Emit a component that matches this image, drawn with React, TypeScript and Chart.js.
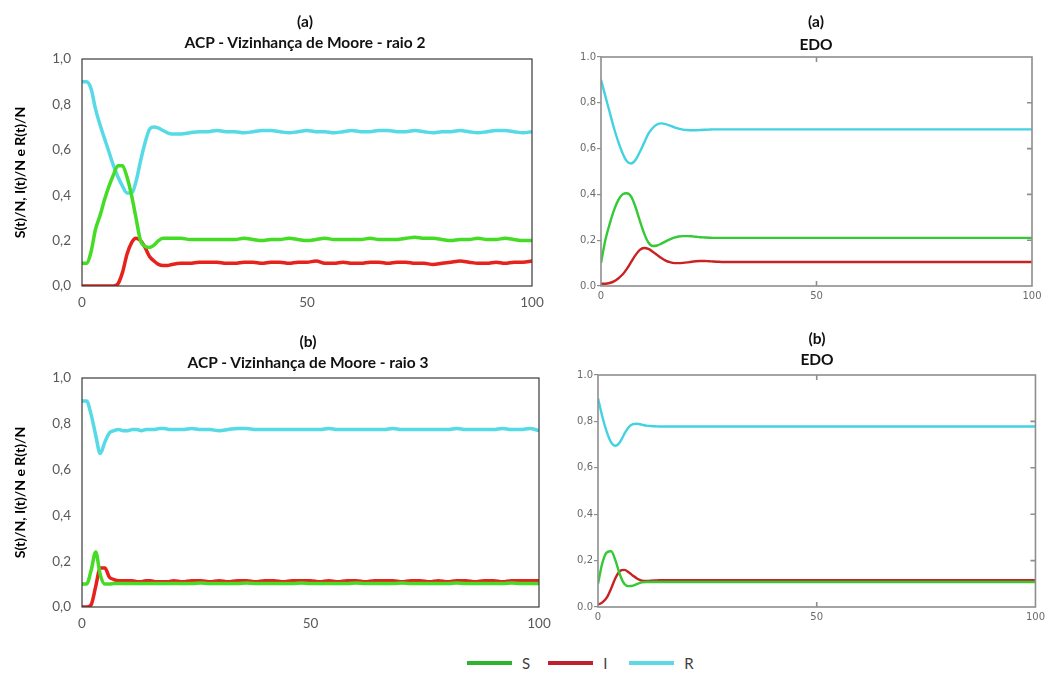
import React, { useEffect, useRef } from 'react';
import { Chart, registerables } from 'chart.js';

Chart.register(...registerables);

// ---------- categories / tick labels ----------
const seriesNames = ['S', 'I', 'R'];
const acpYTicks = ['0,0', '0,2', '0,4', '0,6', '0,8', '1,0'];
const edoYTicks = ['0.0', '0,2', '0,4', '0,6', '0,8', '1.0'];
const xTicks = ['0', '50', '100'];

// ---------- time steps ----------
const tAcp = [
  0, 1, 2, 3, 4, 5, 6, 7, 8, 9, 10, 11, 12, 13, 14, 15, 16, 17, 18, 19, 20,
  22, 24, 26, 28, 30, 32, 34, 36, 38, 40, 42, 44, 46, 48, 50, 52, 54, 56, 58, 60,
  62, 64, 66, 68, 70, 72, 74, 76, 78, 80, 82, 84, 86, 88, 90, 92, 94, 96, 98, 100,
];
const tEdo = [
  0, 1, 2, 3, 4, 5, 6, 7, 8, 9, 10, 11, 12, 13, 14, 15, 16, 17, 18, 19, 20,
  21, 22, 23, 24, 25, 26, 27, 28, 29, 30,
  35, 40, 45, 50, 55, 60, 65, 70, 75, 80, 85, 90, 95, 100,
];

// ---------- (a) ACP raio 2 ----------
const acp2S = [
  0.10, 0.10, 0.15, 0.25, 0.31, 0.38, 0.44, 0.49, 0.53, 0.53, 0.48, 0.40, 0.30, 0.20, 0.175, 0.17, 0.18, 0.20, 0.21, 0.21, 0.21,
  0.21, 0.205, 0.205, 0.205, 0.205, 0.205, 0.205, 0.21, 0.205, 0.20,
  0.205, 0.205, 0.21, 0.205, 0.20, 0.205, 0.21, 0.205, 0.205, 0.205,
  0.205, 0.21, 0.205, 0.205, 0.205, 0.21, 0.215, 0.21, 0.21, 0.205,
  0.20, 0.205, 0.205, 0.21, 0.205, 0.205, 0.21, 0.205, 0.20, 0.20,
];
const acp2I = [
  0, 0, 0, 0, 0, 0, 0, 0, 0.01, 0.06, 0.14, 0.19, 0.21, 0.20, 0.17, 0.13, 0.11, 0.095, 0.09, 0.09, 0.095,
  0.10, 0.10, 0.105, 0.105, 0.105, 0.10, 0.10, 0.105, 0.105, 0.10,
  0.105, 0.105, 0.10, 0.105, 0.105, 0.11, 0.10, 0.10, 0.105, 0.10,
  0.10, 0.105, 0.105, 0.10, 0.105, 0.105, 0.10, 0.10, 0.095, 0.10,
  0.105, 0.11, 0.105, 0.10, 0.10, 0.105, 0.10, 0.105, 0.105, 0.11,
];
const acp2R = [
  0.90, 0.90, 0.87, 0.78, 0.71, 0.65, 0.59, 0.53, 0.48, 0.44, 0.41, 0.41, 0.46, 0.55, 0.63, 0.69, 0.70, 0.695, 0.685, 0.675, 0.67,
  0.67, 0.675, 0.68, 0.68, 0.685, 0.68, 0.68, 0.675, 0.68, 0.685,
  0.685, 0.68, 0.675, 0.68, 0.685, 0.68, 0.68, 0.675, 0.68, 0.685,
  0.68, 0.68, 0.685, 0.685, 0.68, 0.68, 0.685, 0.68, 0.675, 0.68,
  0.68, 0.685, 0.68, 0.675, 0.68, 0.685, 0.685, 0.68, 0.675, 0.68,
];

// ---------- (b) ACP raio 3 ----------
const acp3S = [
  0.10, 0.10, 0.16, 0.24, 0.14, 0.10, 0.10, 0.103, 0.103, 0.103, 0.103, 0.103, 0.103, 0.103, 0.103, 0.103, 0.103, 0.103, 0.103, 0.103, 0.103,
  0.103, 0.103, 0.105, 0.103, 0.103, 0.103, 0.103, 0.105, 0.103, 0.103,
  0.103, 0.103, 0.103, 0.105, 0.103, 0.103, 0.103, 0.103, 0.103, 0.105,
  0.103, 0.103, 0.103, 0.103, 0.105, 0.103, 0.103, 0.103, 0.103, 0.103,
  0.105, 0.103, 0.103, 0.103, 0.103, 0.103, 0.105, 0.103, 0.103, 0.103,
];
const acp3I = [
  0, 0, 0.01, 0.09, 0.17, 0.17, 0.13, 0.12, 0.115, 0.115, 0.115, 0.115, 0.11, 0.11, 0.115, 0.115, 0.11, 0.11, 0.11, 0.11, 0.115,
  0.11, 0.115, 0.115, 0.11, 0.115, 0.11, 0.115, 0.115, 0.11, 0.115,
  0.115, 0.11, 0.115, 0.115, 0.115, 0.11, 0.115, 0.11, 0.115, 0.115,
  0.11, 0.115, 0.115, 0.115, 0.11, 0.115, 0.115, 0.11, 0.115, 0.11,
  0.115, 0.115, 0.11, 0.115, 0.115, 0.11, 0.115, 0.115, 0.115, 0.115,
];
const acp3R = [
  0.90, 0.90, 0.84, 0.75, 0.67, 0.72, 0.76, 0.77, 0.775, 0.77, 0.77, 0.775, 0.775, 0.77, 0.775, 0.775, 0.775, 0.78, 0.78, 0.775, 0.775,
  0.775, 0.78, 0.775, 0.775, 0.77, 0.775, 0.78, 0.78, 0.775, 0.775,
  0.775, 0.775, 0.775, 0.775, 0.775, 0.775, 0.78, 0.775, 0.775, 0.775,
  0.775, 0.775, 0.775, 0.78, 0.775, 0.775, 0.775, 0.775, 0.775, 0.775,
  0.78, 0.775, 0.775, 0.775, 0.775, 0.78, 0.775, 0.775, 0.78, 0.77,
];

// ---------- (a) EDO ----------
const edoAS = [
  0.10, 0.20, 0.27, 0.33, 0.375, 0.40, 0.405, 0.39, 0.345, 0.285, 0.23, 0.19, 0.175, 0.177, 0.185, 0.195, 0.204, 0.211, 0.216, 0.218, 0.218,
  0.217, 0.215, 0.213, 0.212, 0.211, 0.21, 0.21, 0.21, 0.21, 0.21,
  0.21, 0.21, 0.21, 0.21, 0.21, 0.21, 0.21, 0.21, 0.21, 0.21, 0.21, 0.21, 0.21, 0.21,
];
const edoAI = [
  0.01, 0.01, 0.013, 0.02, 0.033, 0.05, 0.075, 0.105, 0.135, 0.158, 0.166, 0.162, 0.15, 0.136, 0.122, 0.111, 0.104, 0.10, 0.10, 0.101, 0.103,
  0.106, 0.108, 0.109, 0.109, 0.108, 0.107, 0.106, 0.105, 0.105, 0.105,
  0.105, 0.105, 0.105, 0.105, 0.105, 0.105, 0.105, 0.105, 0.105, 0.105, 0.105, 0.105, 0.105, 0.105,
];
const edoAR = [
  0.90, 0.83, 0.76, 0.69, 0.63, 0.58, 0.545, 0.535, 0.55, 0.585, 0.625, 0.665, 0.69, 0.705, 0.71, 0.707, 0.70, 0.693, 0.687, 0.683, 0.681,
  0.68, 0.68, 0.681, 0.682, 0.683, 0.684, 0.684, 0.684, 0.684, 0.684,
  0.684, 0.684, 0.684, 0.684, 0.684, 0.684, 0.684, 0.684, 0.684, 0.684, 0.684, 0.684, 0.684, 0.684,
];

// ---------- (b) EDO ----------
const edoBS = [
  0.10, 0.19, 0.235, 0.24, 0.20, 0.14, 0.10, 0.09, 0.092, 0.10, 0.106, 0.108, 0.108, 0.108, 0.108, 0.108, 0.108, 0.108, 0.108, 0.108, 0.108,
  0.108, 0.108, 0.108, 0.108, 0.108, 0.108, 0.108, 0.108, 0.108, 0.108,
  0.108, 0.108, 0.108, 0.108, 0.108, 0.108, 0.108, 0.108, 0.108, 0.108, 0.108, 0.108, 0.108, 0.108,
];
const edoBI = [
  0.01, 0.02, 0.04, 0.08, 0.125, 0.155, 0.16, 0.15, 0.135, 0.122, 0.114, 0.112, 0.113, 0.114, 0.115, 0.115, 0.115, 0.115, 0.115, 0.115, 0.115,
  0.115, 0.115, 0.115, 0.115, 0.115, 0.115, 0.115, 0.115, 0.115, 0.115,
  0.115, 0.115, 0.115, 0.115, 0.115, 0.115, 0.115, 0.115, 0.115, 0.115, 0.115, 0.115, 0.115, 0.115,
];
const edoBR = [
  0.90, 0.82, 0.755, 0.71, 0.695, 0.71, 0.745, 0.775, 0.788, 0.79, 0.786, 0.782, 0.78, 0.779, 0.778, 0.778, 0.778, 0.778, 0.778, 0.778, 0.778,
  0.778, 0.778, 0.778, 0.778, 0.778, 0.778, 0.778, 0.778, 0.778, 0.778,
  0.778, 0.778, 0.778, 0.778, 0.778, 0.778, 0.778, 0.778, 0.778, 0.778, 0.778, 0.778, 0.778, 0.778,
];

// ---------- styles ----------
const acpColors = ['#45DC25', '#E5221B', '#56DAE6'];
const edoColors = ['#36C936', '#C92222', '#42D2E2'];
const legendColors = ['#2DB32D', '#C0202C', '#5ED8E2'];
const FONT = 'Lato, "Open Sans", sans-serif';

const framePlugin = {
  id: 'frame',
  afterDatasetsDraw(chart: any, _args: any, opts: any) {
    const { ctx, chartArea } = chart;
    const { left, top, right, bottom } = chartArea;
    ctx.save();
    ctx.strokeStyle = opts.color;
    ctx.lineWidth = opts.width;
    ctx.strokeRect(left, top, right - left, bottom - top);
    if (opts.innerTicks) {
      const ys = chart.scales.y;
      const xs = chart.scales.x;
      ctx.beginPath();
      ys.ticks.forEach((t: any) => {
        if (t.value <= 0 || t.value >= 1) return;
        const py = ys.getPixelForValue(t.value);
        ctx.moveTo(right - 5, py);
        ctx.lineTo(right, py);
      });
      xs.ticks.forEach((t: any) => {
        if (t.value <= 0 || t.value >= 100) return;
        const px = xs.getPixelForValue(t.value);
        ctx.moveTo(px, top);
        ctx.lineTo(px, top + 5);
        ctx.moveTo(px, bottom);
        ctx.lineTo(px, bottom - 5);
      });
      ctx.stroke();
    }
    ctx.restore();
  },
};

type PanelProps = {
  box: { left: number; top: number; width: number; height: number };
  plot: { l: number; t: number; r: number; b: number };
  times: number[];
  series: number[][];
  kind: 'acp' | 'edo';
  yTitle?: string;
};

function Panel({ box, plot, times, series, kind, yTitle }: PanelProps) {
  const ref = useRef<HTMLCanvasElement | null>(null);
  useEffect(() => {
    if (!ref.current) return;
    const isAcp = kind === 'acp';
    const colors = isAcp ? acpColors : edoColors;
    const yLabels = isAcp ? acpYTicks : edoYTicks;
    const yW = plot.l - box.left;
    const xH = box.top + box.height - plot.b;
    const tickFont = isAcp
      ? { family: FONT, size: 13.5 }
      : { family: '"DejaVu Sans", sans-serif', size: 10 };
    const tickColor = isAcp ? '#595959' : '#6a6a6a';
    const chart = new Chart(ref.current, {
      type: 'line',
      data: {
        datasets: series.map((vals, i) => ({
          label: seriesNames[i],
          data: vals.map((v, j) => ({ x: times[j], y: v })),
          borderColor: colors[i],
          backgroundColor: colors[i],
          borderWidth: isAcp ? 3.5 : 2.4,
          pointRadius: 0,
          cubicInterpolationMode: 'monotone',
          fill: false,
        })),
      },
      options: {
        animation: false,
        responsive: false,
        devicePixelRatio: 1,
        layout: {
          padding: { left: 0, top: plot.t - box.top, right: box.left + box.width - plot.r, bottom: 0 },
        },
        plugins: {
          legend: { display: false },
          tooltip: { enabled: false },
          frame: { color: isAcp ? '#3a3a3a' : '#8e8e8e', width: isAcp ? 1.2 : 1.6, innerTicks: !isAcp },
        } as any,
        scales: {
          x: {
            type: 'linear',
            min: 0,
            max: 100,
            afterFit: (s: any) => { s.height = xH; },
            grid: { display: false, drawTicks: false },
            border: { display: false },
            ticks: {
              stepSize: 50,
              autoSkip: false,
              maxRotation: 0,
              padding: isAcp ? 9 : 4,
              font: tickFont,
              color: tickColor,
              callback: (_v: any, i: number) => xTicks[i],
            },
          },
          y: {
            type: 'linear',
            min: 0,
            max: 1,
            afterFit: (s: any) => { s.width = yW; },
            grid: isAcp
              ? { display: false, drawTicks: false }
              : { display: true, drawOnChartArea: false, drawTicks: true, tickLength: 4, color: '#8e8e8e', lineWidth: 1.2 },
            border: { display: false },
            ticks: {
              stepSize: 0.2,
              padding: isAcp ? 11 : 1,
              font: tickFont,
              color: tickColor,
              callback: (_v: any, i: number) => yLabels[i],
            },
            title: {
              display: !!yTitle,
              text: yTitle || '',
              color: '#000',
              font: { family: FONT, size: 14, weight: 'bold' },
              padding: { top: 12, bottom: 0 },
            },
          },
        },
      } as any,
      plugins: [framePlugin as any],
    });
    return () => chart.destroy();
  }, []);
  return (
    <canvas
      ref={ref}
      width={box.width}
      height={box.height}
      style={{ position: 'absolute', left: box.left, top: box.top, width: box.width, height: box.height }}
    />
  );
}

function Title({ x, y, text }: { x: number; y: number; text: string }) {
  return (
    <div
      style={{
        position: 'absolute',
        left: x,
        top: y - 10,
        transform: 'translateX(-50%)',
        fontFamily: FONT,
        fontWeight: 'bold',
        fontSize: 15.5,
        lineHeight: '20px',
        whiteSpace: 'nowrap',
        color: '#111',
      }}
    >
      {text}
    </div>
  );
}

const yAxisTitle = 'S(t)/N, I(t)/N e R(t)/N';

export default function App() {
  return (
    <div style={{ position: 'absolute', left: 0, top: 0, width: 1049, height: 673, background: '#fff', overflow: 'hidden' }}>
      <Panel
        box={{ left: 0, top: 0, width: 560, height: 325 }}
        plot={{ l: 82, t: 59, r: 532, b: 286 }}
        times={tAcp}
        series={[acp2S, acp2I, acp2R]}
        kind="acp"
        yTitle={yAxisTitle}
      />
      <Panel
        box={{ left: 545, top: 0, width: 504, height: 325 }}
        plot={{ l: 601, t: 57, r: 1032, b: 286 }}
        times={tEdo}
        series={[edoAS, edoAI, edoAR]}
        kind="edo"
      />
      <Panel
        box={{ left: 0, top: 325, width: 560, height: 315 }}
        plot={{ l: 82, t: 378, r: 539, b: 607 }}
        times={tAcp}
        series={[acp3S, acp3I, acp3R]}
        kind="acp"
        yTitle={yAxisTitle}
      />
      <Panel
        box={{ left: 545, top: 325, width: 504, height: 315 }}
        plot={{ l: 598, t: 375, r: 1037, b: 607 }}
        times={tEdo}
        series={[edoBS, edoBI, edoBR]}
        kind="edo"
      />
      <Title x={305} y={21} text="(a)" />
      <Title x={305} y={42} text="ACP - Vizinhança de Moore - raio 2" />
      <Title x={816} y={21} text="(a)" />
      <Title x={816} y={44} text="EDO" />
      <Title x={308} y={341} text="(b)" />
      <Title x={308} y={362} text="ACP - Vizinhança de Moore - raio 3" />
      <Title x={817} y={338} text="(b)" />
      <Title x={817} y={359} text="EDO" />
      <div
        style={{
          position: 'absolute',
          left: 467,
          top: 654,
          height: 18,
          display: 'flex',
          alignItems: 'center',
          fontFamily: FONT,
          fontSize: 15,
          color: '#404040',
        }}
      >
        {seriesNames.map((n, i) => (
          <div key={n} style={{ display: 'flex', alignItems: 'center', marginRight: i < 2 ? 18 : 0 }}>
            <div style={{ width: 45, height: 4, background: legendColors[i] }} />
            <span style={{ marginLeft: 10, minWidth: 8 }}>{n}</span>
          </div>
        ))}
      </div>
    </div>
  );
}
